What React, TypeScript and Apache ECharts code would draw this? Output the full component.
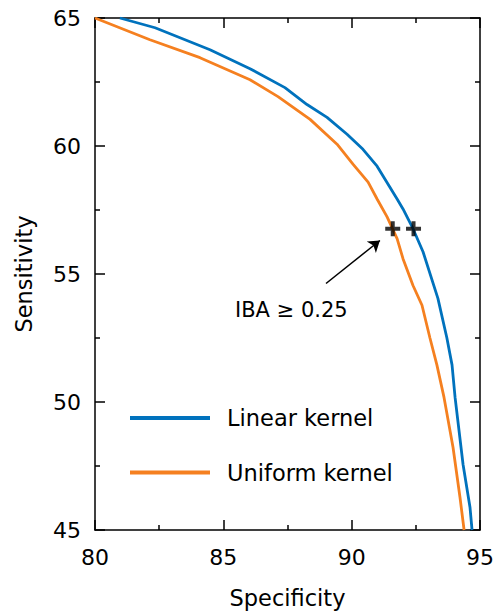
import React, { useEffect, useRef } from "react";
import * as echarts from "echarts";

const linearSpec = [80.97, 82.34, 84.48, 86.04, 87.40, 88.26, 89.04, 89.82, 90.44, 90.99, 91.77, 92.00, 92.39, 92.78, 93.36, 93.71, 93.91, 94.03, 94.34, 94.61, 94.69];
const linearSens = [65.0, 64.62, 63.76, 63.02, 62.28, 61.62, 61.12, 60.46, 59.87, 59.21, 57.93, 57.54, 56.77, 55.87, 54.05, 52.50, 51.45, 50.17, 47.56, 45.89, 45.0];
const uniformSpec = [80.0, 82.14, 84.09, 86.04, 87.13, 88.38, 89.43, 90.05, 90.64, 90.99, 91.38, 91.77, 92.00, 92.39, 92.74, 93.05, 93.32, 93.60, 93.95, 94.22, 94.38];
const uniformSens = [65.0, 64.15, 63.45, 62.59, 61.93, 61.04, 60.07, 59.29, 58.59, 57.93, 57.23, 56.38, 55.60, 54.55, 53.78, 52.50, 51.45, 50.17, 48.22, 46.28, 45.0];
const crossSpec = [91.6, 92.41];
const crossSens = [56.77, 56.77];
const arrowFrom = [89.0, 54.63];
const arrowTo = [91.1, 56.31];
const seriesNames = ["Linear kernel", "Uniform kernel"];
const annotationText = "IBA \u2265 0.25";

const FONT = "DejaVu Sans";
const BLUE = "#0072bd";
const ORANGE = "#f58020";
const PLUS = "path://M5.5,0H9.5V5.5H15V9.5H9.5V15H5.5V9.5H0V5.5H5.5Z";

export default function App() {
  const ref = useRef<HTMLDivElement>(null);
  useEffect(() => {
    const chart = echarts.init(ref.current!, null, { renderer: "svg" });
    const axisCommon = {
      axisLine: { show: true, onZero: false, lineStyle: { color: "#000", width: 1.5 } },
      axisTick: { show: true, inside: true, length: 10, lineStyle: { color: "#000", width: 1.5 } },
      minorTick: { show: true, splitNumber: 2, length: 5, lineStyle: { color: "#000", width: 1.5 } },
      splitLine: { show: false },
    };
    chart.setOption({
      animation: false,
      backgroundColor: "#fff",
      textStyle: { fontFamily: FONT },
      grid: { left: 95, top: 18, width: 385, height: 515, containLabel: false },
      xAxis: [
        {
          type: "value", min: 80, max: 95, interval: 5, position: "bottom",
          ...axisCommon,
          axisLabel: { fontSize: 22, color: "#000", margin: 16, fontFamily: FONT },
          name: "Specificity", nameLocation: "middle", nameGap: 56,
          nameTextStyle: { fontSize: 22.5, color: "#000", fontFamily: FONT },
        },
        {
          type: "value", min: 80, max: 95, interval: 5, position: "top",
          ...axisCommon,
          axisLabel: { show: false },
        },
      ],
      yAxis: [
        {
          type: "value", min: 45, max: 65, interval: 5, position: "left",
          ...axisCommon,
          axisLabel: { fontSize: 22, color: "#000", margin: 14, fontFamily: FONT },
          name: "Sensitivity", nameLocation: "middle", nameGap: 60,
          nameTextStyle: { fontSize: 22.5, color: "#000", fontFamily: FONT },
        },
        {
          type: "value", min: 45, max: 65, interval: 5, position: "right",
          ...axisCommon,
          axisLabel: { show: false },
        },
      ],
      legend: {
        show: true,
        orient: "vertical",
        left: 125,
        top: 400,
        itemWidth: 80,
        itemHeight: 4,
        itemGap: 28.6,
        icon: "rect",
        data: seriesNames,
        textStyle: { fontSize: 22.5, color: "#000", fontFamily: FONT, lineHeight: 26, padding: [0, 0, 0, 12] },
      },
      series: [
        {
          name: seriesNames[0], type: "line", xAxisIndex: 0, yAxisIndex: 0,
          data: linearSpec.map((x, i) => [x, linearSens[i]]),
          showSymbol: false, symbol: "none",
          lineStyle: { color: BLUE, width: 2.8 }, itemStyle: { color: BLUE },
        },
        {
          name: seriesNames[1], type: "line", xAxisIndex: 0, yAxisIndex: 0,
          data: uniformSpec.map((x, i) => [x, uniformSens[i]]),
          showSymbol: false, symbol: "none",
          lineStyle: { color: ORANGE, width: 2.8 }, itemStyle: { color: ORANGE },
        },
        {
          name: "IBA", type: "scatter", xAxisIndex: 0, yAxisIndex: 0,
          data: crossSpec.map((x, i) => [x, crossSens[i]]),
          symbol: PLUS, symbolSize: 15,
          itemStyle: { color: "#000" }, z: 5,
        },
        {
          name: "arrow", type: "lines", coordinateSystem: "cartesian2d", xAxisIndex: 0, yAxisIndex: 0,
          data: [{ coords: [arrowFrom, arrowTo] }],
          symbol: ["none", "arrow"], symbolSize: 11,
          lineStyle: { color: "#000", width: 1.5, opacity: 1 },
          z: 5,
        },
      ],
      graphic: [
        {
          type: "text", left: 235, top: 299,
          style: { text: annotationText, fontSize: 21, fill: "#000", fontFamily: FONT },
        },
      ],
    });
    return () => chart.dispose();
  }, []);
  return (
    <div style={{ position: "fixed", left: 0, top: 0, width: 498, height: 614, background: "#fff" }}>
      <div ref={ref} style={{ width: 498, height: 614 }} />
    </div>
  );
}
